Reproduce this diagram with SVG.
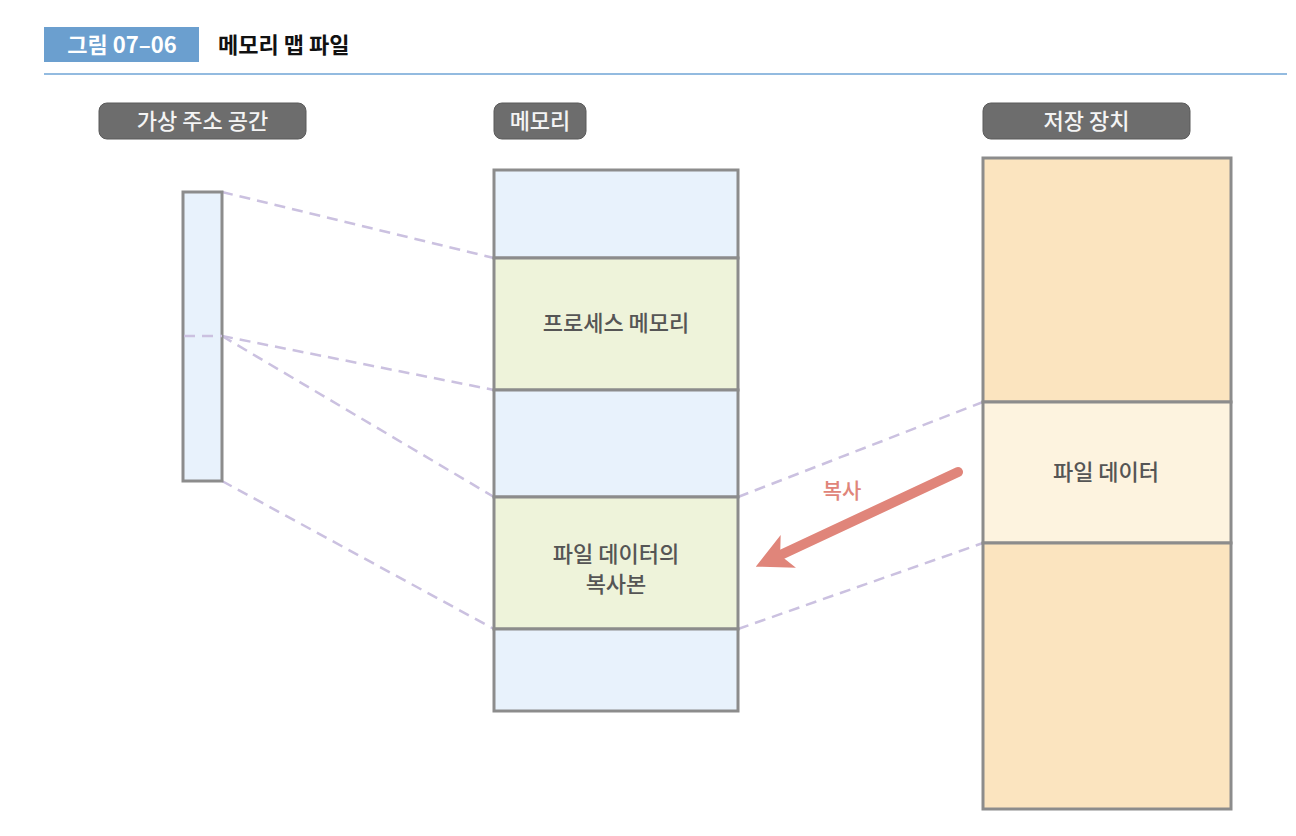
<svg xmlns="http://www.w3.org/2000/svg" width="1296" height="836" viewBox="0 0 1296 836">
<defs>
<style>
text{font-family:"Noto Sans CJK KR","Noto Sans",sans-serif;}
.pill{fill:#6d6d6d;stroke:#5a5a5a;stroke-width:1}
.pt{fill:#f4f4f4;font-size:22px;text-anchor:middle;font-weight:500}
.box{stroke:#8c8c8c;stroke-width:3}
.blue{fill:#e8f2fc}
.green{fill:#eef3da}
.orange{fill:#fbe4bf}
.cream{fill:#fdf3df}
.lbl{fill:#555;font-size:22px;text-anchor:middle;font-weight:500}
.dash{stroke:#cbc1e0;stroke-width:2.5;stroke-dasharray:11 7;fill:none}
</style>
<marker id="ah" viewBox="0 0 10 10" refX="5" refY="5" markerWidth="3.6" markerHeight="3.6" orient="auto" markerUnits="strokeWidth">
<path d="M0,0 L10,5 L0,10 L2.5,5 Z" fill="#e0857a"/>
</marker>
</defs>
<rect width="1296" height="836" fill="#fff"/>
<g id="header">
<rect x="44" y="27" width="155" height="35" fill="#6b9fcf"/>
<text x="122" y="53" font-size="22" font-weight="bold" fill="#fff" text-anchor="middle">그림 07–06</text>
<text x="218" y="53" font-size="22" font-weight="bold" fill="#111">메모리 맵 파일</text>
<line x1="44" y1="74" x2="1287" y2="74" stroke="#93bbe0" stroke-width="2"/>
</g>
<g id="label-virtual">
<rect class="pill" x="99" y="103" width="207" height="36" rx="8"/>
<text class="pt" x="202.5" y="129">가상 주소 공간</text>
</g>
<g id="label-memory">
<rect class="pill" x="494" y="103" width="92" height="36" rx="8"/>
<text class="pt" x="540" y="129">메모리</text>
</g>
<g id="label-storage">
<rect class="pill" x="983" y="103" width="207" height="36" rx="8"/>
<text class="pt" x="1086.5" y="129">저장 장치</text>
</g>
<g id="connectors">
<line class="dash" x1="222" y1="192" x2="494" y2="258"/>
<line class="dash" x1="222" y1="336" x2="494" y2="390"/>
<line class="dash" x1="222" y1="336" x2="494" y2="497"/>
<line class="dash" x1="222" y1="481" x2="494" y2="629"/>
<line class="dash" x1="738" y1="497" x2="983" y2="402"/>
<line class="dash" x1="738" y1="629" x2="983" y2="543"/>
<line x1="958" y1="472" x2="772" y2="559" stroke="#e0857a" stroke-width="10" stroke-linecap="round" marker-end="url(#ah)"/>
<text x="842" y="498" font-size="21" fill="#e0857a" text-anchor="middle" font-weight="500">복사</text>
</g>
<g id="virtual-space">
<rect class="box blue" x="183" y="192" width="39" height="289"/>
<line class="dash" x1="184" y1="336" x2="222" y2="336"/>
</g>
<g id="memory">
<rect class="box blue" x="494" y="170" width="244" height="88"/>
<rect class="box green" x="494" y="258" width="244" height="132"/>
<rect class="box blue" x="494" y="390" width="244" height="107"/>
<rect class="box green" x="494" y="497" width="244" height="132"/>
<rect class="box blue" x="494" y="629" width="244" height="82"/>
<text class="lbl" x="616" y="331">프로세스 메모리</text>
<text class="lbl" x="616" y="562">파일 데이터의</text>
<text class="lbl" x="616" y="592">복사본</text>
</g>
<g id="storage">
<rect class="box orange" x="983" y="158" width="248" height="244"/>
<rect class="box cream" x="983" y="402" width="248" height="141"/>
<rect class="box orange" x="983" y="543" width="248" height="266"/>
<text class="lbl" x="1106" y="480">파일 데이터</text>
</g>
</svg>
